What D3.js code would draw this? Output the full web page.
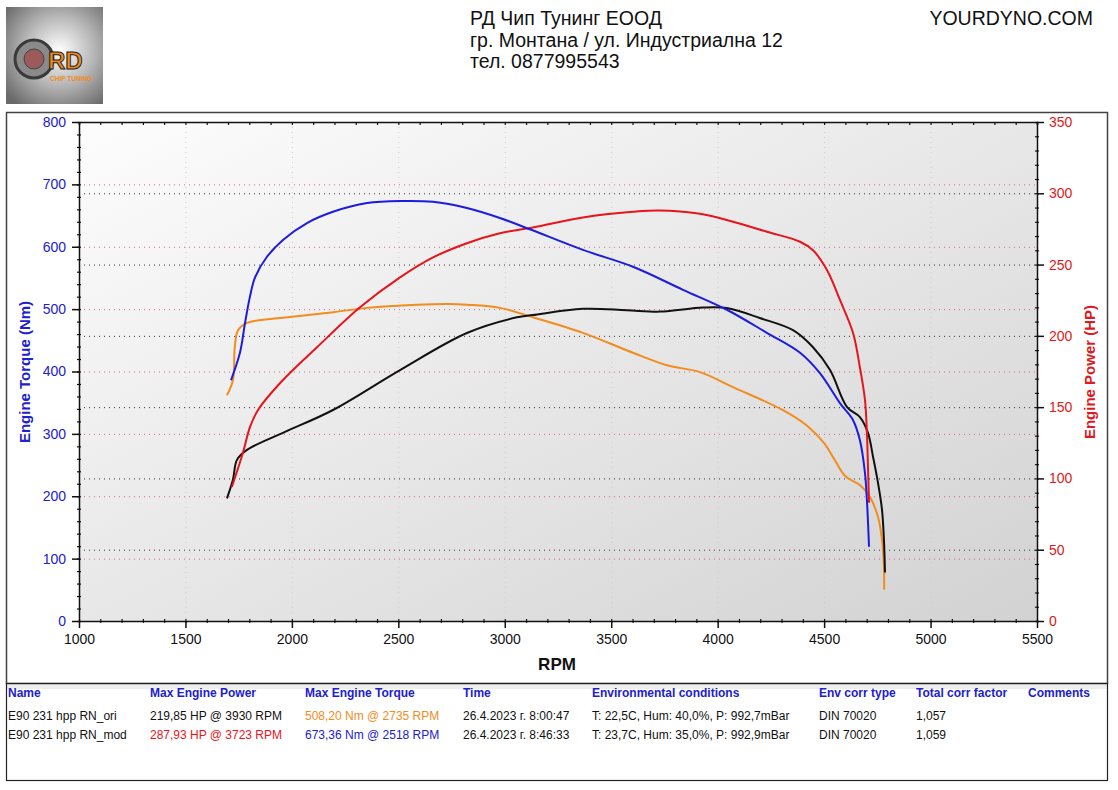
<!DOCTYPE html>
<html>
<head>
<meta charset="utf-8">
<script src="https://cdn.jsdelivr.net/npm/d3@7"></script>
<style>
  body { margin: 0; background: #fff; }
  text { font-family: "Liberation Sans", Arial, sans-serif; }
</style>
</head>
<body>
<div id="chart"></div>
<script>
// ---- data ----
var oriTorqueRpm = [1695,1723,1732,1747,1789,1958,2193,2353,2587,2735,2822,2977,3132,3367,3602,3762,3917,4072,4307,4420,4500,4550,4600,4668,4715,4753,4772,4781,4782];
var oriTorqueNm  = [362,386,440,466,478,486,495,502,507,508.2,507,502,487,462,430,410,399,375,338,313,285,258,232,218,199,167,130,87,50];

var oriPowerRpm = [1695,1723,1742,1789,1958,2193,2508,2822,3057,3132,3367,3573,3729,3930,4043,4198,4354,4448,4528,4608,4668,4706,4730,4753,4772,4781,4786];
var oriPowerHp  = [86,99,113,120,132,148,176,202,213,214.6,219,218,217,219.85,219.5,212.5,204,192,176,150,143,132,115,97,78,57,34];

var modPowerRpm = [1718,1770,1803,1841,1958,2118,2320,2508,2663,2822,2977,3132,3367,3602,3723,3917,4072,4231,4387,4448,4514,4575,4636,4668,4692,4701,4706,4711];
var modPowerHp  = [94,118,136,148,169,192,220,241,255,265,272,276,283,287,287.93,285.6,280,273,266,260,246,225,202,178,155,132,108,83];

var modTorqueRpm = [1714,1756,1780,1803,1827,1883,1958,2071,2193,2353,2518,2663,2822,2977,3118,3367,3602,3837,4043,4231,4387,4481,4575,4636,4668,4692,4701,4711];
var modTorqueNm  = [386,430,478,520,551,584,611,638,656,670,673.36,672,662,646,628,595,568,531,499,462,430,397,349,322,290,237,194,119];

var rpmTicks    = [1000,1500,2000,2500,3000,3500,4000,4500,5000,5500];
var torqueTicks = [0,100,200,300,400,500,600,700,800];
var powerTicks  = [0,50,100,150,200,250,300,350];

var headerLines = ["РД Чип Тунинг ЕООД", "гр. Монтана / ул. Индустриална 12", "тел. 0877995543"];
var tableHead = ["Name","Max Engine Power","Max Engine Torque","Time","Environmental conditions","Env corr type","Total corr factor","Comments"];
var tableRows = [
  ["E90 231 hpp RN_ori","219,85 HP @ 3930 RPM","508,20 Nm @ 2735 RPM","26.4.2023 г. 8:00:47","T: 22,5C, Hum: 40,0%, P: 992,7mBar","DIN 70020","1,057",""],
  ["E90 231 hpp RN_mod","287,93 HP @ 3723 RPM","673,36 Nm @ 2518 RPM","26.4.2023 г. 8:46:33","T: 23,7C, Hum: 35,0%, P: 992,9mBar","DIN 70020","1,059",""]
];

var W = 1118, H = 790;
var pLeft = 79, pRight = 1037, pTop = 122, pBottom = 621;

var svg = d3.select('#chart').append('svg')
    .attr('width', W)
    .attr('height', H);

var defs = svg.append('defs');
var bg = defs.append('linearGradient').attr('id','plotBg')
    .attr('x1','0').attr('y1','0').attr('x2','1').attr('y2','1');
bg.append('stop').attr('offset','0').attr('stop-color','#fdfdfd');
bg.append('stop').attr('offset','1').attr('stop-color','#d2d2d2');

var lg = defs.append('radialGradient').attr('id','logoBg')
    .attr('cx','0.55').attr('cy','0.45').attr('r','0.7');
lg.append('stop').attr('offset','0').attr('stop-color','#ffffff');
lg.append('stop').attr('offset','0.5').attr('stop-color','#b8b8b8');
lg.append('stop').attr('offset','1').attr('stop-color','#6a6a6a');

// ---- logo ----
var logo = svg.append('g').attr('transform','translate(6,7)');
logo.append('rect').attr('width',97).attr('height',97).attr('fill','url(#logoBg)');
logo.append('circle').attr('cx',28).attr('cy',52).attr('r',19).attr('fill','#8a8a8a').attr('stroke','#3a3a3a').attr('stroke-width',3);
logo.append('circle').attr('cx',28).attr('cy',52).attr('r',10).attr('fill','#9c5a5a').attr('stroke','#444');
logo.append('text').attr('x',42).attr('y',62).attr('font-size',24).attr('font-weight','bold')
    .attr('fill','#f08a1c').attr('stroke','#222').attr('stroke-width',1).text('RD');
logo.append('text').attr('x',44).attr('y',74).attr('font-size',6.5).attr('font-weight','bold')
    .attr('fill','#f08a1c').text('CHIP TUNING');

// ---- header ----
svg.selectAll('.hdr').data(headerLines).enter().append('text')
    .attr('class','hdr')
    .attr('x',470)
    .attr('y',function(d,i){ return 25 + i*21.5; })
    .attr('font-size',19.5)
    .attr('fill','#111')
    .text(function(d){ return d; });
svg.append('text').attr('x',1093).attr('y',25).attr('text-anchor','end')
    .attr('font-size',19.5).attr('fill','#111').text('YOURDYNO.COM');

// ---- frames ----
svg.append('rect').attr('x',6.5).attr('y',112.5).attr('width',1101).attr('height',571)
    .attr('fill','none').attr('stroke','#444').attr('stroke-width',1.5);
svg.append('rect').attr('x',7).attr('y',685).attr('width',1100).attr('height',4).attr('fill','#eeeeee');
svg.append('rect').attr('x',6.5).attr('y',683.5).attr('width',1101).attr('height',97)
    .attr('fill','none').attr('stroke','#222').attr('stroke-width',1.2);

// ---- scales ----
var x = d3.scaleLinear().domain([1000,5500]).range([pLeft,pRight]);
var yT = d3.scaleLinear().domain([0,800]).range([pBottom,pTop]);
var yP = d3.scaleLinear().domain([0,350]).range([pBottom,pTop]);

svg.append('rect').attr('x',pLeft).attr('y',pTop).attr('width',pRight-pLeft).attr('height',pBottom-pTop)
    .attr('fill','url(#plotBg)');

// grid
var grid = svg.append('g');
grid.selectAll('.vg').data(rpmTicks.slice(1,-1)).enter().append('line')
    .attr('x1',function(d){return x(d)+0.5;}).attr('x2',function(d){return x(d)+0.5;})
    .attr('y1',pTop).attr('y2',pBottom)
    .attr('stroke','#cdcdcd').attr('stroke-width',1).attr('stroke-dasharray','1,4');
grid.selectAll('.tg').data(torqueTicks.slice(1,-1)).enter().append('line')
    .attr('x1',pLeft).attr('x2',pRight)
    .attr('y1',function(d){return yT(d)+0.5;}).attr('y2',function(d){return yT(d)+0.5;})
    .attr('stroke','#e0606a').attr('stroke-width',1).attr('stroke-dasharray','1,4');
grid.selectAll('.pg').data(powerTicks.slice(1,-1)).enter().append('line')
    .attr('x1',pLeft).attr('x2',pRight)
    .attr('y1',function(d){return yP(d)+0.5;}).attr('y2',function(d){return yP(d)+0.5;})
    .attr('stroke','#333').attr('stroke-width',1).attr('stroke-dasharray','1,4');

// ---- axes ----
function styleAxis(g, color, size) {
    g.select('.domain').attr('stroke','#111').attr('stroke-width',1.5);
    g.selectAll('.tick line').attr('stroke','#111').attr('stroke-width',1.5);
    g.selectAll('.tick text').attr('fill',color).attr('font-size',size)
        .attr('font-family','"Liberation Sans", Arial, sans-serif');
}
function minorStyle(g) {
    g.select('.domain').remove();
    g.selectAll('line').attr('stroke','#111').attr('stroke-width',1.2);
}

// minor ticks
svg.append('g').attr('transform','translate('+(pLeft+2)+',0)')
    .call(d3.axisLeft(yT).tickValues(d3.range(0,801,20)).tickSize(4).tickFormat(''))
    .call(minorStyle);
svg.append('g').attr('transform','translate('+(pRight-2)+',0)')
    .call(d3.axisRight(yP).tickValues(d3.range(0,351,10)).tickSize(4).tickFormat(''))
    .call(minorStyle);
svg.append('g').attr('transform','translate(0,'+(pBottom-2)+')')
    .call(d3.axisBottom(x).tickValues(d3.range(1000,5501,100)).tickSize(4).tickFormat(''))
    .call(minorStyle);
svg.append('g').attr('transform','translate(0,'+pTop+')')
    .call(d3.axisBottom(x).tickValues(d3.range(1000,5501,100)).tickSize(3).tickFormat(''))
    .call(function(g){ g.select('.domain').attr('stroke','#111').attr('stroke-width',1.5); g.selectAll('line').attr('stroke','#111').attr('stroke-width',1.2); });

var yAxisL = svg.append('g').attr('transform','translate('+pLeft+',0)')
    .call(d3.axisLeft(yT).tickValues(torqueTicks).tickFormat(d3.format('d')).tickSize(7).tickPadding(6).tickSizeOuter(0));
styleAxis(yAxisL, '#2020d0', 14);
var yAxisR = svg.append('g').attr('transform','translate('+pRight+',0)')
    .call(d3.axisRight(yP).tickValues(powerTicks).tickFormat(d3.format('d')).tickSize(7).tickPadding(5).tickSizeOuter(0));
styleAxis(yAxisR, '#e01820', 14);
var xAxis = svg.append('g').attr('transform','translate(0,'+pBottom+')')
    .call(d3.axisBottom(x).tickValues(rpmTicks).tickFormat(d3.format('d')).tickSize(7).tickPadding(6).tickSizeOuter(0));
styleAxis(xAxis, '#111', 14);

// axis titles
svg.append('text').attr('x',557).attr('y',670).attr('text-anchor','middle')
    .attr('font-size',17).attr('font-weight','bold').attr('fill','#111').text('RPM');
svg.append('text').attr('transform','translate(30,372) rotate(-90)').attr('text-anchor','middle')
    .attr('font-size',15).attr('font-weight','bold').attr('fill','#2020d0').text('Engine Torque (Nm)');
svg.append('text').attr('transform','translate(1095,372) rotate(-90)').attr('text-anchor','middle')
    .attr('font-size',15).attr('font-weight','bold').attr('fill','#e01820').text('Engine Power (HP)');

// ---- curves ----
function pairs(a, b) { return a.map(function(v,i){ return [v, b[i]]; }); }
var lineT = d3.line().x(function(d){return x(d[0]);}).y(function(d){return yT(d[1]);}).curve(d3.curveCatmullRom.alpha(0.5));
var lineP = d3.line().x(function(d){return x(d[0]);}).y(function(d){return yP(d[1]);}).curve(d3.curveCatmullRom.alpha(0.5));

var curves = [
  { d: pairs(oriTorqueRpm, oriTorqueNm), l: lineT, c: '#f28c1e' },
  { d: pairs(oriPowerRpm, oriPowerHp),   l: lineP, c: '#111111' },
  { d: pairs(modPowerRpm, modPowerHp),   l: lineP, c: '#e8141c' },
  { d: pairs(modTorqueRpm, modTorqueNm), l: lineT, c: '#1c1ce0' }
];
svg.append('g').selectAll('path').data(curves).enter().append('path')
    .attr('d', function(s){ return s.l(s.d); })
    .attr('fill','none')
    .attr('stroke', function(s){ return s.c; })
    .attr('stroke-width', 2)
    .attr('stroke-linejoin','round');

// ---- table ----
var colX = [8,150,305,463,592,819,916,1028];
svg.selectAll('.th').data(tableHead).enter().append('text')
    .attr('x',function(d,i){return colX[i];}).attr('y',697)
    .attr('font-size',12).attr('font-weight','bold').attr('fill','#2020d0')
    .text(function(d){return d;});
var rowColors = [
  ['#111','#111','#f28c1e','#111','#111','#111','#111','#111'],
  ['#111','#e8141c','#2020d0','#111','#111','#111','#111','#111']
];
tableRows.forEach(function(row, r) {
    svg.selectAll('.tr'+r).data(row).enter().append('text')
        .attr('x',function(d,i){return colX[i];}).attr('y',720 + r*19)
        .attr('font-size',12)
        .attr('fill',function(d,i){return rowColors[r][i];})
        .text(function(d){return d;});
});
</script>
</body>
</html>
